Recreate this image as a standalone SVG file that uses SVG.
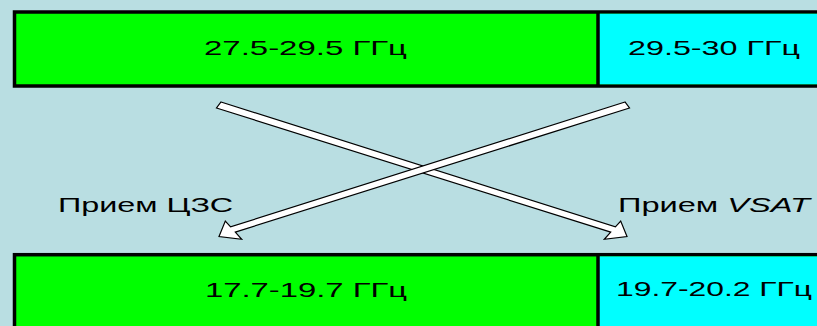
<svg xmlns="http://www.w3.org/2000/svg" width="817" height="326" viewBox="0 0 817 326">
  <style>
    .bar { stroke: #000; stroke-width: 3.5; }
    .green { fill: #00FF00; }
    .cyan { fill: #00FFFF; }
    .divider { stroke: #000; stroke-width: 3.5; }
    .lbl { font-family: "Liberation Sans", Arial, sans-serif; font-size: 21px; fill: #000; }
    .arrow { fill: #FFFFFF; stroke: #000; stroke-width: 1.2; stroke-linejoin: miter; }
  </style>
  <rect x="0" y="0" width="817" height="326" fill="#B9DEE2"/>

  <!-- uplink band -->
  <g id="uplink-band">
    <rect class="bar green" x="14.5" y="12" width="830" height="74"/>
    <rect class="cyan" x="598" y="13.75" width="240" height="70.5"/>
    <line class="divider" x1="598" y1="12" x2="598" y2="86"/>
    <text class="lbl" x="204" y="55" textLength="203" lengthAdjust="spacingAndGlyphs">27.5-29.5 ГГц</text>
    <text class="lbl" x="628" y="55" textLength="172" lengthAdjust="spacingAndGlyphs">29.5-30 ГГц</text>
  </g>

  <!-- downlink band -->
  <g id="downlink-band">
    <rect class="bar green" x="14.5" y="254.7" width="830" height="90"/>
    <rect class="cyan" x="598" y="256.45" width="240" height="90"/>
    <line class="divider" x1="598" y1="254.7" x2="598" y2="340"/>
    <text class="lbl" x="205" y="297" textLength="202" lengthAdjust="spacingAndGlyphs">17.7-19.7 ГГц</text>
    <text class="lbl" x="616" y="296" textLength="196" lengthAdjust="spacingAndGlyphs">19.7-20.2 ГГц</text>
  </g>

  <!-- receive labels -->
  <g id="label-hub">
    <text class="lbl" x="58" y="212" textLength="175" lengthAdjust="spacingAndGlyphs">Прием ЦЗС</text>
  </g>
  <g id="label-vsat">
    <text class="lbl" x="618" y="212" textLength="192" lengthAdjust="spacingAndGlyphs">Прием <tspan font-style="italic">VSAT</tspan></text>
  </g>

  <!-- crossing frequency-conversion arrows -->
  <g id="connectors">
    <polygon class="arrow" points="221,102 615.4,226.9 620.7,221 627,236.5 604.3,239.3 610.7,232.1 216.5,108"/>
    <polygon class="arrow" points="625,102 230.6,226.9 225.3,221 219,236.5 241.7,239.3 235.3,232.1 629.5,108"/>
  </g>
</svg>
